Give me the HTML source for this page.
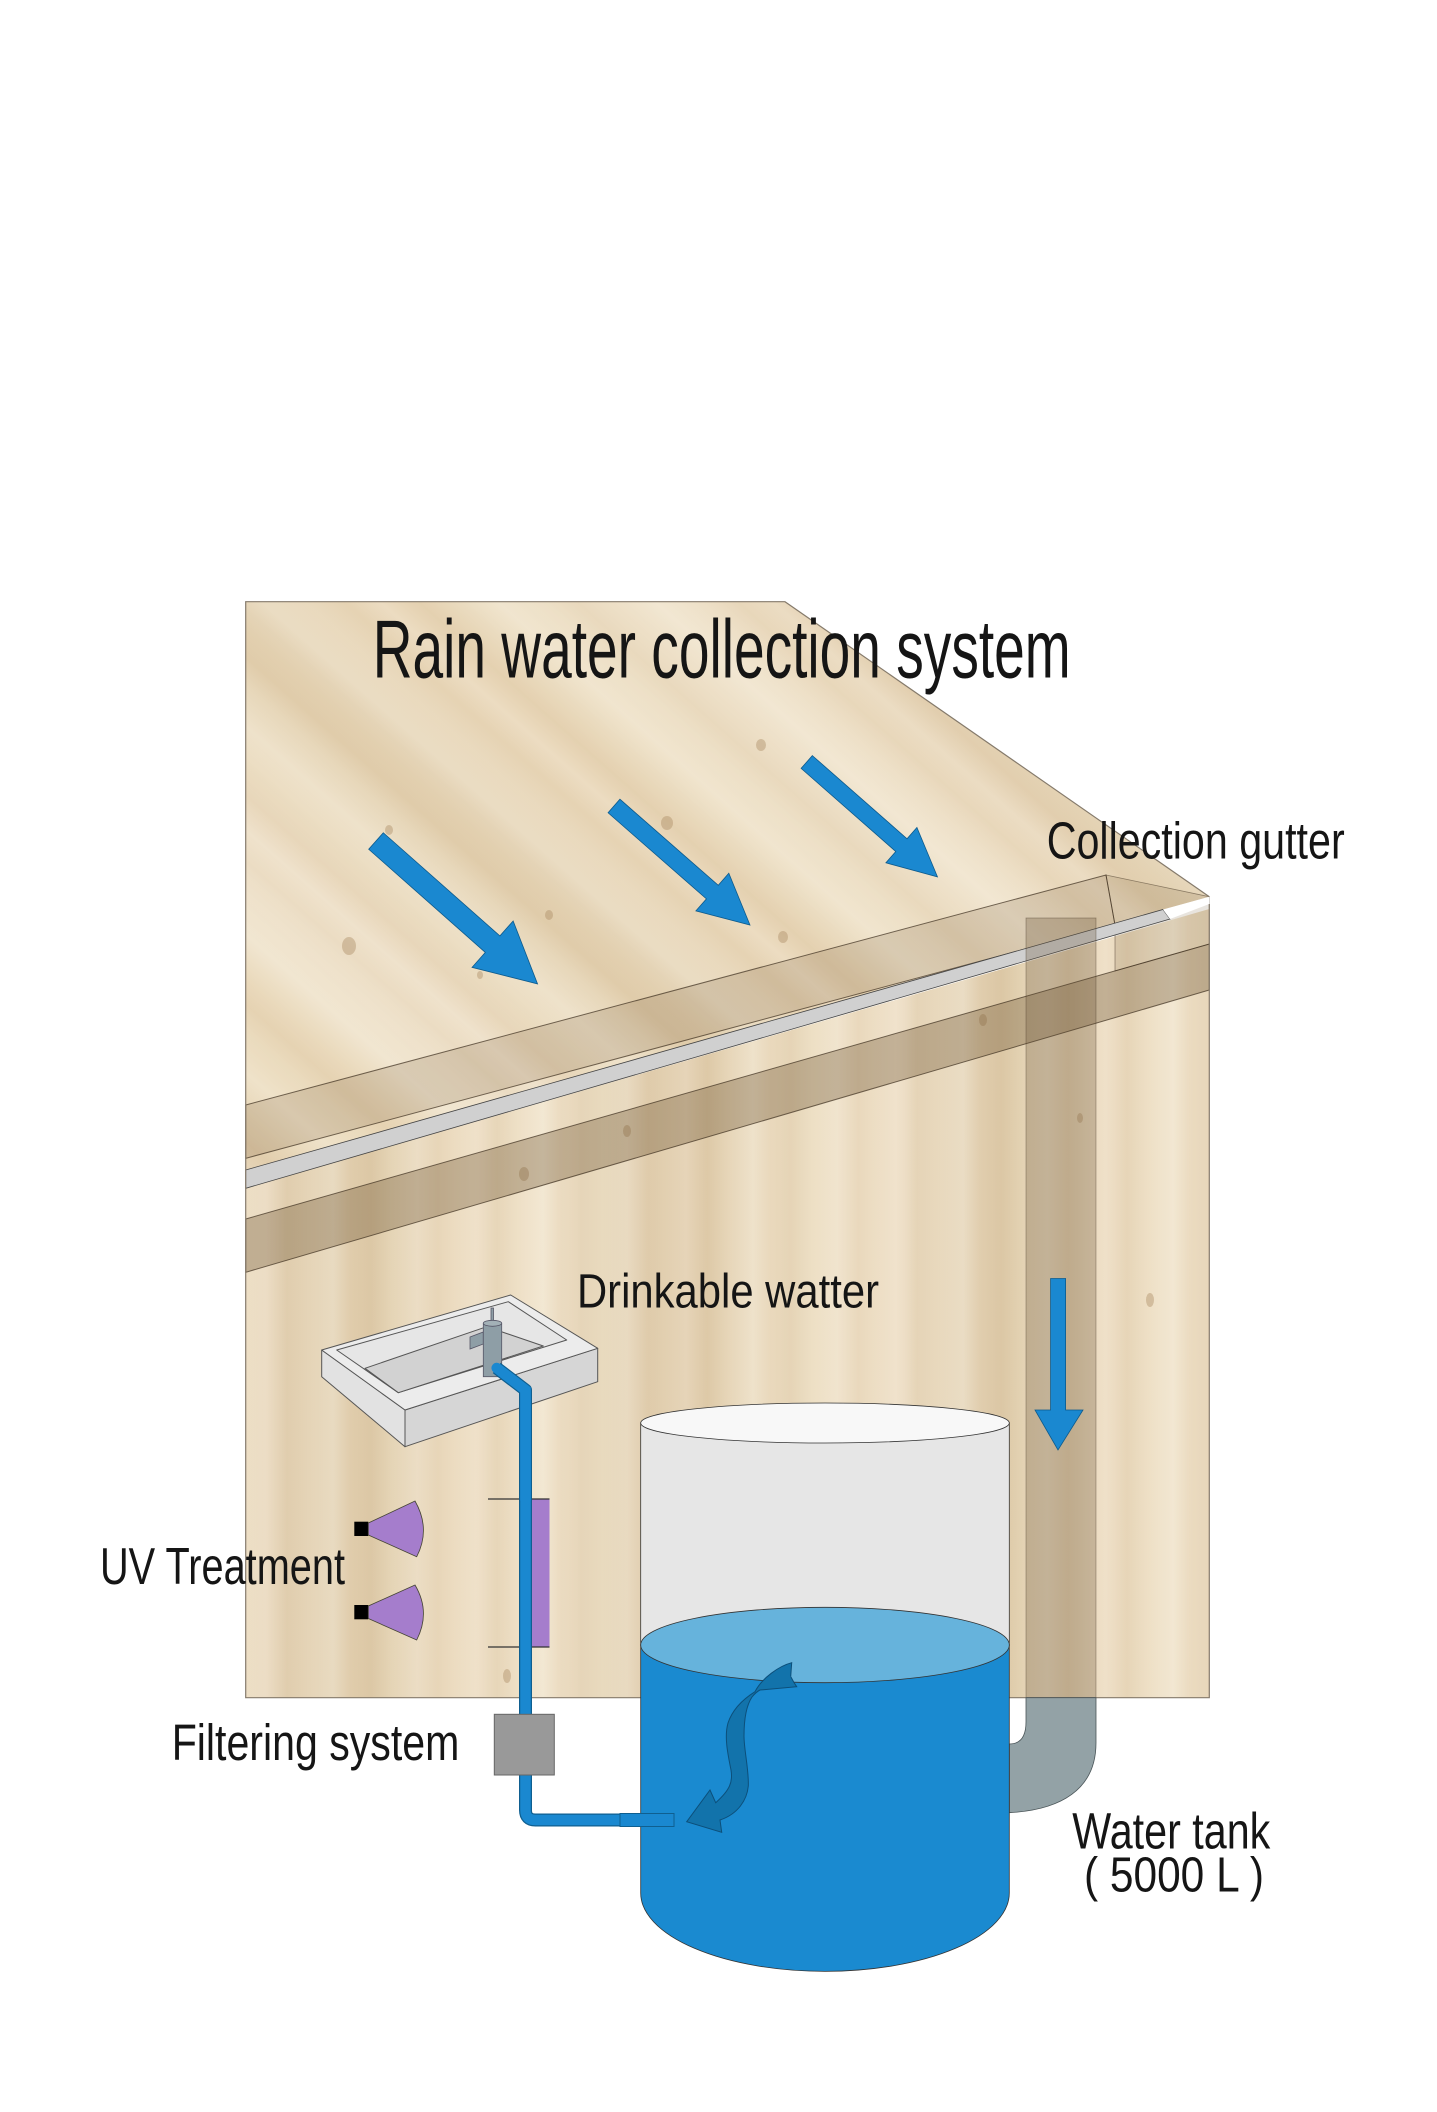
<!DOCTYPE html>
<html><head><meta charset="utf-8">
<style>html,body{margin:0;padding:0;background:#fff;}svg{display:block;}text{font-family:"Liberation Sans",Arial,sans-serif;fill:#151515;}</style>
</head><body>
<svg width="1437" height="2112" viewBox="0 0 1437 2112" xmlns="http://www.w3.org/2000/svg">
<defs>
<linearGradient id="roofG" gradientUnits="userSpaceOnUse" x1="700" y1="600" x2="528" y2="795" spreadMethod="repeat">
<stop offset="0" stop-color="#ebdbbf"/>
<stop offset="0.12" stop-color="#efe2c9"/>
<stop offset="0.24" stop-color="#e8d6b6"/>
<stop offset="0.32" stop-color="#e4d0ae"/>
<stop offset="0.4" stop-color="#eadabc"/>
<stop offset="0.52" stop-color="#efe2c9"/>
<stop offset="0.64" stop-color="#e8d7b8"/>
<stop offset="0.72" stop-color="#e4d0af"/>
<stop offset="0.82" stop-color="#ecdcc1"/>
<stop offset="0.91" stop-color="#e6d3b3"/>
<stop offset="1" stop-color="#ebdbbf"/>
</linearGradient>
<linearGradient id="roofG2" gradientUnits="userSpaceOnUse" x1="600" y1="600" x2="310" y2="930" spreadMethod="repeat">
<stop offset="0" stop-color="#fff" stop-opacity="0.22"/>
<stop offset="0.3" stop-color="#fff" stop-opacity="0"/>
<stop offset="0.55" stop-color="#8a6a40" stop-opacity="0.07"/>
<stop offset="0.8" stop-color="#fff" stop-opacity="0.1"/>
<stop offset="1" stop-color="#fff" stop-opacity="0.22"/>
</linearGradient>
<linearGradient id="wallG" gradientUnits="userSpaceOnUse" x1="245" y1="0" x2="455" y2="0" spreadMethod="repeat">
<stop offset="0" stop-color="#e9d7b8"/>
<stop offset="0.1" stop-color="#eddcc1"/>
<stop offset="0.2" stop-color="#e3cfad"/>
<stop offset="0.3" stop-color="#ebdabc"/>
<stop offset="0.42" stop-color="#f0e3ca"/>
<stop offset="0.5" stop-color="#e7d4b4"/>
<stop offset="0.6" stop-color="#e2ceac"/>
<stop offset="0.7" stop-color="#eadabb"/>
<stop offset="0.82" stop-color="#eedfc5"/>
<stop offset="0.92" stop-color="#e5d1b0"/>
<stop offset="1" stop-color="#e9d7b8"/>
</linearGradient>
<linearGradient id="wallG2" gradientUnits="userSpaceOnUse" x1="245" y1="0" x2="575" y2="0" spreadMethod="repeat">
<stop offset="0" stop-color="#fff" stop-opacity="0.18"/>
<stop offset="0.35" stop-color="#7a5a30" stop-opacity="0.06"/>
<stop offset="0.6" stop-color="#fff" stop-opacity="0.12"/>
<stop offset="1" stop-color="#fff" stop-opacity="0.18"/>
</linearGradient>
</defs>

<!-- roof -->
<polygon points="245.7,601.7 785,601.7 1209.3,896.7 245.7,1170" fill="url(#roofG)"/>
<polygon points="245.7,601.7 785,601.7 1209.3,896.7 245.7,1170" fill="url(#roofG2)"/>
<!-- wall -->
<polygon points="245.7,1188.3 1209.3,909 1209.3,1697.7 245.7,1697.7" fill="url(#wallG)"/>
<polygon points="245.7,1188.3 1209.3,909 1209.3,1697.7 245.7,1697.7" fill="url(#wallG2)"/>

<!-- knots -->
<g fill="#a88660" opacity="0.4">
<ellipse cx="349" cy="946" rx="7" ry="9"/>
<ellipse cx="389" cy="830" rx="4" ry="5"/>
<ellipse cx="549" cy="915" rx="4" ry="5"/>
<ellipse cx="667" cy="823" rx="6" ry="7"/>
<ellipse cx="761" cy="745" rx="5" ry="6"/>
<ellipse cx="783" cy="937" rx="5" ry="6"/>
<ellipse cx="480" cy="975" rx="3" ry="4"/>
<ellipse cx="524" cy="1174" rx="5" ry="7"/>
<ellipse cx="627" cy="1131" rx="4" ry="6"/>
<ellipse cx="983" cy="1020" rx="4" ry="6"/>
<ellipse cx="1080" cy="1118" rx="3" ry="5"/>
<ellipse cx="507" cy="1676" rx="4" ry="7"/>
<ellipse cx="1150" cy="1300" rx="4" ry="7"/>
</g>

<!-- gutter top face (band A) -->
<polygon points="245.7,1105 1106,875 1115,925 245.7,1158.3" fill="rgba(110,85,50,0.18)" stroke="rgba(60,45,30,0.7)" stroke-width="1"/>
<!-- gutter right end region -->
<polygon points="1106,875 1209.3,896.7 1209.3,944 1115,971 1115,925" fill="rgba(110,85,50,0.16)" stroke="rgba(60,45,30,0.5)" stroke-width="0.8"/>
<!-- gray strip -->
<polygon points="245.7,1170 1163,909.5 1170,919 245.7,1188.3" fill="#d0d0d0" stroke="#444" stroke-width="0.8"/>
<polygon points="1163,909.5 1209.3,896.7 1209.3,904 1170,919" fill="#fff"/>
<!-- gutter front (band B) -->
<polygon points="245.7,1219 1209.3,944 1209.3,990 245.7,1272.3" fill="rgba(100,75,40,0.32)" stroke="rgba(60,45,30,0.7)" stroke-width="1"/>
<!-- downspout channel -->
<rect x="1026" y="918" width="70" height="779.7" fill="rgba(100,80,50,0.28)" stroke="rgba(60,45,30,0.4)" stroke-width="0.8"/>

<!-- panel outline -->
<polyline points="1209.3,904 1209.3,1697.7 245.7,1697.7 245.7,601.7 785,601.7 1209.3,896.7" fill="none" stroke="#857a6b" stroke-width="1.2"/>

<!-- roof arrows -->
<g fill="#1a88d0" stroke="#0d5a8c" stroke-width="0.8">
<polygon transform="translate(376,841) rotate(41.5)" points="0,-11 155.7,-11 155.7,-31 215.7,0 155.7,31 155.7,11 0,11"/>
<polygon transform="translate(614,806) rotate(41.2)" points="0,-9 130.7,-9 130.7,-25 180.7,0 130.7,25 130.7,9 0,9"/>
<polygon transform="translate(806.75,762) rotate(41.3)" points="0,-8.5 126,-8.5 126,-23.5 174,0 126,23.5 126,8.5 0,8.5"/>
<polygon points="1050.6,1278.5 1065.6,1278.5 1065.6,1410 1083,1410 1058,1450 1035,1410 1050.6,1410"/>
</g>

<!-- sink -->
<g stroke="#555" stroke-width="1" stroke-linejoin="round">
<polygon points="321.7,1350 405,1410 405,1446.7 321.7,1376.7" fill="#e2e2e2"/>
<polygon points="405,1410 597.7,1348.3 597.7,1381.7 405,1446.7" fill="#d6d6d6"/>
<polygon points="321.7,1350 510.7,1295 597.7,1348.3 405,1410" fill="#ececec"/>
<polygon points="336.7,1350 508.3,1301.7 566.7,1340 398.3,1392.7" fill="#e6e6e6"/>
<polygon points="365,1368.3 486.7,1326.7 543.3,1346 398.3,1392.7" fill="#d2d2d2"/>
</g>
<!-- faucet -->
<g stroke="#556" stroke-width="0.8">
<rect x="491" y="1308" width="2.5" height="16" fill="#8e9ea6"/>
<polygon points="470,1337 483.3,1332 483.3,1344 470,1349" fill="#8e9ea6"/>
<rect x="483.3" y="1323.3" width="18.4" height="53.4" fill="#8e9ea6"/>
<ellipse cx="492.5" cy="1323.3" rx="9.2" ry="3" fill="#a3b1b7"/>
</g>

<!-- UV lamps -->
<rect x="354.3" y="1521.7" width="14" height="14.3" fill="#000"/>
<path d="M368.3,1523 L415,1501 Q431,1529 416.7,1556.7 L368.3,1535 Z" fill="#a57dcc" stroke="#443" stroke-width="0.8"/>
<rect x="354.3" y="1605" width="14" height="14.3" fill="#000"/>
<path d="M368.3,1606 L415,1585 Q431,1612 416.7,1640 L368.3,1618.5 Z" fill="#a57dcc" stroke="#443" stroke-width="0.8"/>
<!-- UV tube -->
<rect x="531" y="1499" width="18.5" height="148" fill="#a57dcc"/>
<line x1="488" y1="1499" x2="549.5" y2="1499" stroke="#333" stroke-width="1.2"/>
<line x1="488" y1="1647" x2="549.5" y2="1647" stroke="#333" stroke-width="1.2"/>

<!-- outlet gray pipe -->
<path d="M1026,1697.7 L1026,1722 Q1026,1744 1009.3,1744 L1009.3,1812.7 C1060,1810 1096,1790 1096,1743 L1096,1697.7 Z" fill="#93a2a6" stroke="#4a5558" stroke-width="0.8"/>

<!-- tank -->
<rect x="640.7" y="1423" width="368.6" height="222" fill="#e6e6e6" stroke="#333" stroke-width="0.8"/>
<ellipse cx="825" cy="1423" rx="184.3" ry="20" fill="#f8f8f8" stroke="#333" stroke-width="0.8"/>
<path d="M640.7,1645 L640.7,1893 A184.3,78.4 0 0 0 1009.3,1893 L1009.3,1645 Z" fill="#1a8ad0" stroke="#333" stroke-width="0.8"/>
<ellipse cx="825" cy="1645" rx="184.3" ry="37.7" fill="#66b3dc" stroke="#333" stroke-width="0.8"/>

<!-- curvy arrow -->
<path d="M791.7,1662.7 C779,1666 762,1678 755,1691.7 C745,1698 733,1708 728,1723 C724,1737 728,1755 731,1770 C733,1782 730,1790 715.7,1802.7 L710,1790 L686.7,1821.7 L721.7,1832.3 L720,1820 C738,1814 747,1800 748.3,1786 C749,1770 744,1750 744,1736 C744,1722 746,1706 752,1697 C756,1692 760,1690 760,1690 L796.7,1686.7 C792,1680 790.7,1676 790.7,1676.7 Z" fill="#1273ab" stroke="#0c4f7a" stroke-width="1"/>

<!-- blue pipe -->
<path d="M496.7,1368 L525.5,1390 L525.5,1810 Q525.5,1820 535.5,1820 L674,1820" fill="none" stroke="#0f5f90" stroke-width="13" stroke-linejoin="round"/>
<path d="M496.7,1368 L525.5,1390 L525.5,1810 Q525.5,1820 535.5,1820 L673,1820" fill="none" stroke="#1a88d0" stroke-width="10.5" stroke-linejoin="round"/>
<rect x="620" y="1813.5" width="54" height="13" fill="#1a88d0" stroke="#0f5f90" stroke-width="1"/>
<path d="M496.7,1368 L525.5,1390 L525.5,1500" fill="none" stroke="#1a88d0" stroke-width="10.5" stroke-linecap="round"/>

<!-- filter -->
<rect x="494.3" y="1714.3" width="60" height="60.7" fill="#999" stroke="#666" stroke-width="1"/>

<!-- labels -->
<text x="372.7" y="677.3" font-size="83" textLength="698" lengthAdjust="spacingAndGlyphs">Rain water collection system</text>
<text x="1046.7" y="858.3" font-size="52" textLength="298" lengthAdjust="spacingAndGlyphs">Collection gutter</text>
<text x="577" y="1307.5" font-size="48" textLength="302" lengthAdjust="spacingAndGlyphs">Drinkable watter</text>
<text x="100" y="1584" font-size="52" textLength="245" lengthAdjust="spacingAndGlyphs">UV Treatment</text>
<text x="171.7" y="1760" font-size="51" textLength="287.6" lengthAdjust="spacingAndGlyphs">Filtering system</text>
<text x="1072.3" y="1848.3" font-size="51" textLength="198" lengthAdjust="spacingAndGlyphs">Water tank</text>
<text x="1084" y="1891.7" font-size="49" textLength="180" lengthAdjust="spacingAndGlyphs">( 5000 L )</text>
</svg>
</body></html>
